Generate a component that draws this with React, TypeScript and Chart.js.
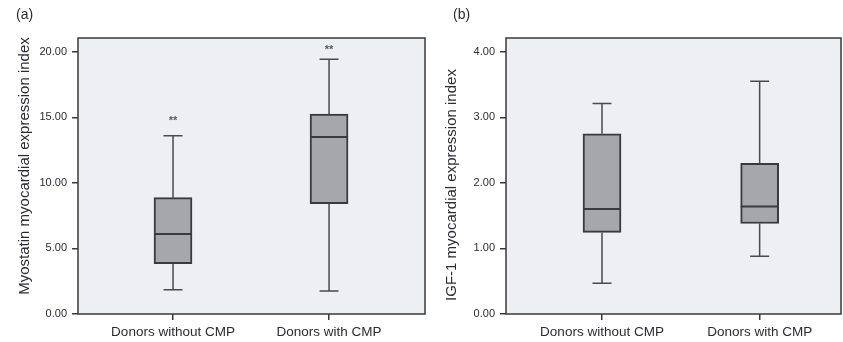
import React, { useEffect, useRef } from "react";
import { Chart, registerables } from "chart.js";

Chart.register(...registerables);

const categories = ["Donors without CMP", "Donors with CMP"];

// Panel (a): Myostatin myocardial expression index
const myoMin = [1.85, 1.75];
const myoQ1 = [3.84, 8.41];
const myoMedian = [6.1, 13.5];
const myoQ3 = [8.87, 15.25];
const myoMax = [13.59, 19.42];
const myoExtremes = [14.9, 20.3];
const myoTicks = [0, 5, 10, 15, 20];

// Panel (b): IGF-1 myocardial expression index
const igfMin = [0.47, 0.88];
const igfQ1 = [1.245, 1.38];
const igfMedian = [1.6, 1.64];
const igfQ3 = [2.75, 2.3];
const igfMax = [3.21, 3.55];
const igfExtremes: (number | null)[] = [null, null];
const igfTicks = [0, 1, 2, 3, 4];

const FONT = "'Liberation Sans', Arial, Helvetica, sans-serif";
const TEXT = "#2c2c34";
const LINE = "#3a3a3a";

const boxPlugin = {
  id: "boxExtras",
  beforeDraw(chart: any, _args: any, opts: any) {
    const { ctx, chartArea: a } = chart;
    ctx.save();
    ctx.fillStyle = opts.plotBg;
    ctx.fillRect(a.left, a.top, a.right - a.left, a.bottom - a.top);
    ctx.restore();
  },
  afterDatasetsDraw(chart: any, _args: any, opts: any) {
    const { ctx } = chart;
    const xs = chart.scales.x;
    const ys = chart.scales.y;
    const meta = chart.getDatasetMeta(0);
    ctx.save();
    opts.min.forEach((_v: number, i: number) => {
      const px = xs.getPixelForValue(i);
      const w = meta.data[i].width;
      const cap = w / 2;
      const yMin = ys.getPixelForValue(opts.min[i]);
      const yQ1 = ys.getPixelForValue(opts.q1[i]);
      const yQ3 = ys.getPixelForValue(opts.q3[i]);
      const yMax = ys.getPixelForValue(opts.max[i]);
      const yMed = ys.getPixelForValue(opts.median[i]);
      ctx.strokeStyle = "#4a4a4a";
      ctx.lineWidth = 1.5;
      ctx.beginPath();
      ctx.moveTo(px, yQ3);
      ctx.lineTo(px, yMax);
      ctx.moveTo(px - cap / 2, yMax);
      ctx.lineTo(px + cap / 2, yMax);
      ctx.moveTo(px, yQ1);
      ctx.lineTo(px, yMin);
      ctx.moveTo(px - cap / 2, yMin);
      ctx.lineTo(px + cap / 2, yMin);
      ctx.stroke();
      ctx.strokeStyle = LINE;
      ctx.lineWidth = 2;
      ctx.beginPath();
      ctx.moveTo(px - w / 2, yMed);
      ctx.lineTo(px + w / 2, yMed);
      ctx.stroke();
      const ex = opts.extremes[i];
      if (ex !== null && ex !== undefined) {
        ctx.fillStyle = "#555a66";
        ctx.font = `bold 11px ${FONT}`;
        ctx.textAlign = "center";
        ctx.textBaseline = "middle";
        ctx.fillText("**", px, ys.getPixelForValue(ex) + 2);
      }
    });
    ctx.restore();
  },
  afterDraw(chart: any, _args: any, opts: any) {
    const { ctx, chartArea: a } = chart;
    ctx.save();
    ctx.strokeStyle = LINE;
    ctx.lineWidth = 1.5;
    ctx.strokeRect(a.left, a.top, a.right - a.left, a.bottom - a.top);
    ctx.fillStyle = TEXT;
    ctx.font = `15px ${FONT}`;
    ctx.textAlign = "center";
    ctx.textBaseline = "middle";
    ctx.translate(opts.yTitleX, opts.yTitleY);
    ctx.rotate(-Math.PI / 2);
    ctx.fillText(opts.yTitle, 0, 0);
    ctx.restore();
    ctx.save();
    ctx.fillStyle = TEXT;
    ctx.font = `14px ${FONT}`;
    ctx.textAlign = "left";
    ctx.textBaseline = "middle";
    ctx.fillText(opts.panelLabel, opts.panelX, opts.panelY);
    ctx.restore();
  },
};

type PanelProps = {
  width: number;
  left: number;
  axisWidth: number;
  padRight: number;
  xMin: number;
  xMax: number;
  yMax: number;
  ticks: number[];
  min: number[];
  q1: number[];
  median: number[];
  q3: number[];
  max: number[];
  extremes: (number | null)[];
  yTitle: string;
  yTitleX: number;
  yTitleY: number;
  panelLabel: string;
  panelX: number;
};

function BoxPanel(p: PanelProps) {
  const ref = useRef<HTMLCanvasElement | null>(null);
  useEffect(() => {
    if (!ref.current) return;
    const chart = new Chart(ref.current, {
      type: "bar",
      data: {
        datasets: [
          {
            data: categories.map((_c, i) => ({ x: i, y: [p.q1[i], p.q3[i]] })) as any,
            backgroundColor: "#a6a7ab",
            borderColor: LINE,
            borderWidth: 2,
            borderSkipped: false,
            barThickness: 38,
          },
        ],
      },
      options: {
        responsive: false,
        animation: false,
        devicePixelRatio: 1,
        layout: { padding: { left: 0, top: 38, right: p.padRight, bottom: 0 } },
        plugins: {
          legend: { display: false },
          tooltip: { enabled: false },
          title: { display: false },
          boxExtras: {
            plotBg: "#eeeff2",
            min: p.min,
            q1: p.q1,
            median: p.median,
            q3: p.q3,
            max: p.max,
            extremes: p.extremes,
            yTitle: p.yTitle,
            yTitleX: p.yTitleX,
            yTitleY: p.yTitleY,
            panelLabel: p.panelLabel,
            panelX: p.panelX,
            panelY: 15,
          },
        } as any,
        scales: {
          x: {
            type: "linear",
            min: p.xMin,
            max: p.xMax,
            offset: false,
            border: { display: false },
            grid: { offset: false, drawOnChartArea: false, tickLength: 6, color: LINE, lineWidth: 1.5 },
            afterBuildTicks: (s: any) => {
              s.ticks = categories.map((_c, i) => ({ value: i }));
            },
            afterFit: (s: any) => {
              s.height = 28;
            },
            ticks: {
              autoSkip: false,
              maxRotation: 0,
              padding: 4,
              color: TEXT,
              font: { family: FONT, size: 13.5 },
              callback: (v: any) => categories[Number(v)] ?? "",
            },
          },
          y: {
            type: "linear",
            min: 0,
            max: p.yMax,
            border: { display: false },
            grid: { drawOnChartArea: false, tickLength: 6, color: LINE, lineWidth: 1.5 },
            afterBuildTicks: (s: any) => {
              s.ticks = p.ticks.map((v) => ({ value: v }));
            },
            afterFit: (s: any) => {
              s.width = p.axisWidth;
            },
            ticks: {
              padding: 5,
              color: TEXT,
              font: { family: FONT, size: 11 },
              callback: (v: any) => Number(v).toFixed(2),
            },
          },
        },
      } as any,
      plugins: [boxPlugin],
    });
    return () => chart.destroy();
  }, []);
  return (
    <canvas
      ref={ref}
      width={p.width}
      height={342}
      style={{ position: "absolute", left: p.left, top: 0, width: p.width, height: 342 }}
    />
  );
}

export default function App() {
  return (
    <div style={{ position: "absolute", left: 0, top: 0, width: 843, height: 342, background: "#fff" }}>
      <BoxPanel
        width={428}
        left={0}
        axisWidth={78}
        padRight={3}
        xMin={-0.609}
        xMax={1.615}
        yMax={21.05}
        ticks={myoTicks}
        min={myoMin}
        q1={myoQ1}
        median={myoMedian}
        q3={myoQ3}
        max={myoMax}
        extremes={myoExtremes}
        yTitle="Myostatin myocardial expression index"
        yTitleX={25}
        yTitleY={166}
        panelLabel="(a)"
        panelX={16}
      />
      <BoxPanel
        width={415}
        left={428}
        axisWidth={78}
        padRight={2}
        xMin={-0.609}
        xMax={1.516}
        yMax={4.21}
        ticks={igfTicks}
        min={igfMin}
        q1={igfQ1}
        median={igfMedian}
        q3={igfQ3}
        max={igfMax}
        extremes={igfExtremes}
        yTitle="IGF-1 myocardial expression index"
        yTitleX={24}
        yTitleY={185}
        panelLabel="(b)"
        panelX={25}
      />
    </div>
  );
}
